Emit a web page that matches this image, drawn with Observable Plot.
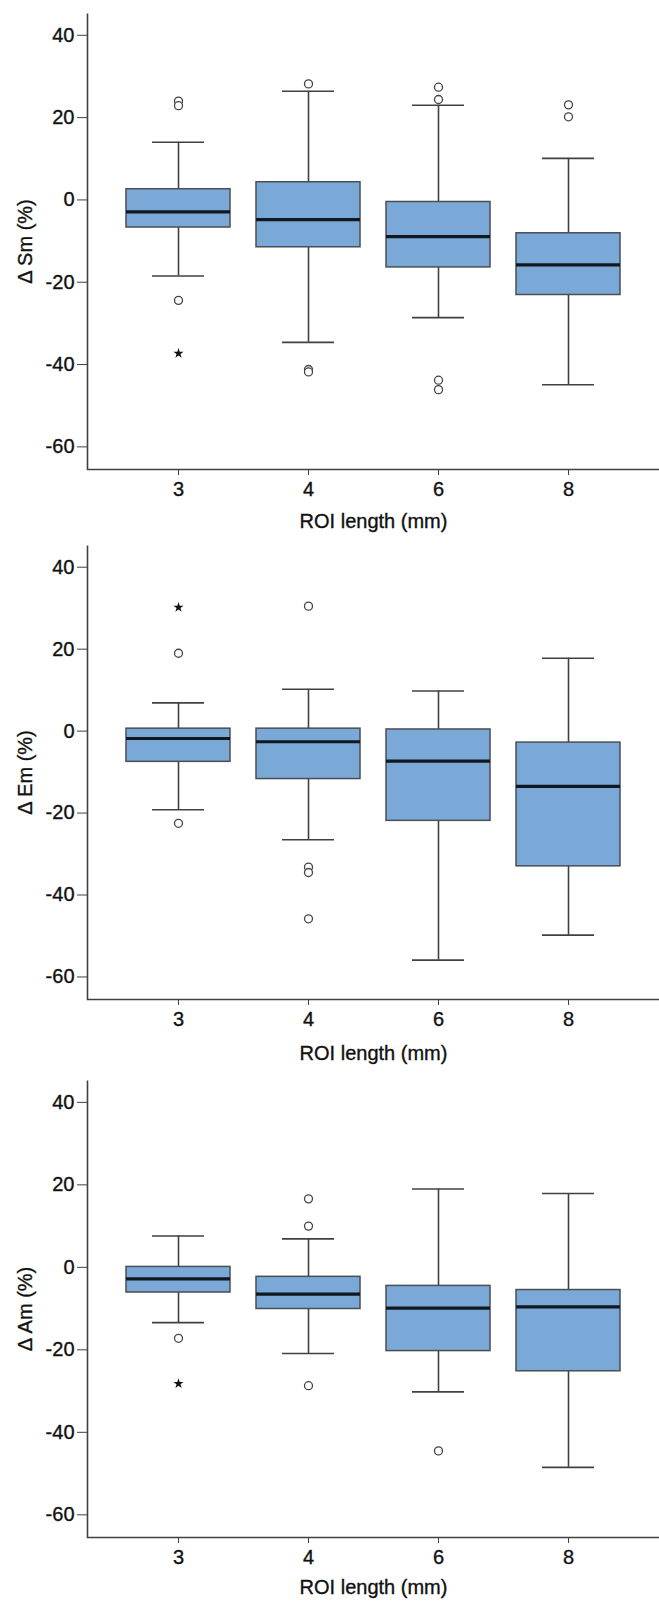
<!DOCTYPE html>
<html>
<head>
<meta charset="utf-8">
<script src="https://cdn.jsdelivr.net/npm/d3@7"></script>
<script src="https://cdn.jsdelivr.net/npm/@observablehq/plot@0.6"></script>
<style>
  body { margin: 0; background: #fff; }
  #chart svg { display: block; }
  #chart svg text { stroke: #111; stroke-width: 0.35px; }
</style>
</head>
<body>
<div id="chart"></div>
<script>
// ---- categories & ticks ----
const roiLengths = ["3", "4", "6", "8"];
const yTicks = [-60, -40, -20, 0, 20, 40];
const xLabel = "ROI length (mm)";

// ---- Δ Sm (%) ----
const smLow  = [-18.5, -34.6, -28.6, -44.9];
const smQ1   = [-6.7, -11.5, -16.4, -23.1];
const smMed  = [-2.9, -4.8, -8.9, -15.8];
const smQ3   = [2.6, 4.3, -0.5, -8.1];
const smHigh = [14.0, 26.4, 23.0, 10.1];
const smOutX = ["3", "3", "3", "4", "4", "4", "6", "6", "6", "6", "8", "8"];
const smOutY = [24.0, 22.9, -24.4, 28.2, -41.2, -41.8, 27.4, 24.4, -43.8, -46.1, 23.1, 20.2];
const smExtX = ["3"];
const smExtY = [-37.3];

// ---- Δ Em (%) ----
const emLow  = [-19.2, -26.5, -55.9, -49.8];
const emQ1   = [-7.5, -11.7, -21.9, -33.0];
const emMed  = [-1.8, -2.6, -7.3, -13.5];
const emQ3   = [0.6, 0.6, 0.4, -2.8];
const emHigh = [6.9, 10.2, 9.8, 17.8];
const emOutX = ["3", "3", "4", "4", "4", "4"];
const emOutY = [19.0, -22.5, 30.5, -33.2, -34.5, -45.8];
const emExtX = ["3"];
const emExtY = [30.2];

// ---- Δ Am (%) ----
const amLow  = [-13.4, -20.9, -30.2, -48.5];
const amQ1   = [-6.1, -10.1, -20.3, -25.2];
const amMed  = [-2.8, -6.5, -9.9, -9.6];
const amQ3   = [0.1, -2.3, -4.5, -5.5];
const amHigh = [7.6, 6.9, 19.0, 17.9];
const amOutX = ["3", "4", "4", "4", "6"];
const amOutY = [-17.2, 16.6, 10.0, -28.7, -44.5];
const amExtX = ["3"];
const amExtY = [-28.2];

const panels = [
  {label: "Δ Sm (%)", low: smLow, q1: smQ1, med: smMed, q3: smQ3, high: smHigh,
   outX: smOutX, outY: smOutY, extX: smExtX, extY: smExtY,
   height: 533, mt: 13, mb: 64, xlabDy: 52},
  {label: "Δ Em (%)", low: emLow, q1: emQ1, med: emMed, q3: emQ3, high: emHigh,
   outX: emOutX, outY: emOutY, extX: emExtX, extY: emExtY,
   height: 534, mt: 12, mb: 68, xlabDy: 54},
  {label: "Δ Am (%)", low: amLow, q1: amQ1, med: amMed, q3: amQ3, high: amHigh,
   outX: amOutX, outY: amOutY, extX: amExtX, extY: amExtY,
   height: 535, mt: 13, mb: 65, xlabDy: 50}
];

const W = 659, ML = 87, MR = 0;
const lineCol = "#404040";
const boxFill = "#7aa8d7";

function makePanel(p) {
  const boxes = roiLengths.map((r, i) => ({
    roi: r, low: p.low[i], q1: p.q1[i], med: p.med[i], q3: p.q3[i], high: p.high[i]
  }));
  const outliers = p.outX.map((x, i) => ({roi: x, v: p.outY[i]}));
  const extremes = p.extX.map((x, i) => ({roi: x, v: p.extY[i]}));
  const fw = W - ML - MR, fh = p.height - p.mt - p.mb;
  return Plot.plot({
    width: W,
    height: p.height,
    marginLeft: ML,
    marginRight: MR,
    marginTop: p.mt,
    marginBottom: p.mb,
    style: {fontFamily: "'Liberation Sans', Arial, sans-serif", fontSize: "20px", color: "#111", background: "#fff"},
    x: {type: "band", domain: roiLengths, paddingInner: 0.2, paddingOuter: 0.3},
    y: {domain: [-65.5, 45.3]},
    marks: [
      // left + bottom axis lines
      Plot.frame({stroke: lineCol, strokeWidth: 1.6, fill: "none",
        strokeDasharray: `0 ${fw + fh} ${fw + fh} 0`}),
      // whiskers
      Plot.ruleX(boxes, {x: "roi", y1: "low", y2: "q1", stroke: lineCol, strokeWidth: 1.6}),
      Plot.ruleX(boxes, {x: "roi", y1: "q3", y2: "high", stroke: lineCol, strokeWidth: 1.6}),
      Plot.tickY(boxes, {x: "roi", y: "low", stroke: lineCol, strokeWidth: 1.6, insetLeft: 26, insetRight: 26}),
      Plot.tickY(boxes, {x: "roi", y: "high", stroke: lineCol, strokeWidth: 1.6, insetLeft: 26, insetRight: 26}),
      // boxes
      Plot.barY(boxes, {x: "roi", y1: "q1", y2: "q3", fill: boxFill, stroke: "#4a4f55", strokeWidth: 1.5}),
      Plot.tickY(boxes, {x: "roi", y: "med", stroke: "#111820", strokeWidth: 3.2}),
      // outliers
      Plot.dot(outliers, {x: "roi", y: "v", r: 4, stroke: "#444", strokeWidth: 1.3, fill: "white"}),
      Plot.dot(extremes, {x: "roi", y: "v", symbol: "star", r: 3.2, fill: "#111", stroke: "none"}),
      // axes
      Plot.axisY({ticks: yTicks, tickSize: 10, tickPadding: 3, tickFormat: d => String(d),
        label: null, stroke: lineCol, fill: "#111", fontSize: 20}),
      Plot.axisX({tickSize: 6, tickPadding: 6, label: null, stroke: lineCol, fill: "#111", fontSize: 20}),
      // axis titles
      Plot.text([p.label], {frameAnchor: "left", dx: -62, rotate: -90, textAnchor: "middle",
        lineAnchor: "middle", fontSize: 20, fill: "#111"}),
      Plot.text([xLabel], {frameAnchor: "bottom", dy: p.xlabDy, textAnchor: "middle",
        lineAnchor: "middle", fontSize: 20, fill: "#111"})
    ]
  });
}

const chart = document.getElementById("chart");
for (const p of panels) chart.appendChild(makePanel(p));
</script>
</body>
</html>
